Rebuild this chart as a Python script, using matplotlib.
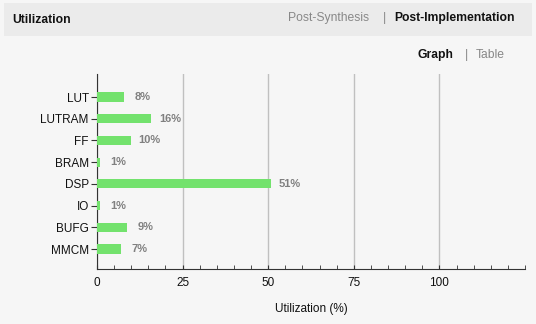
import matplotlib
matplotlib.use('Agg')
import numpy as np
from matplotlib import pyplot as plt
from matplotlib.patches import Rectangle
from matplotlib.ticker import MultipleLocator, FixedLocator

plt.rcParams['font.family'] = ['Liberation Sans', 'DejaVu Sans']

resources = ['LUT', 'LUTRAM', 'FF', 'BRAM', 'DSP', 'IO', 'BUFG', 'MMCM']
utilization = [7.9, 15.9, 9.9, 0.8, 50.9, 0.8, 8.9, 6.9]
labels = ['8%', '16%', '10%', '1%', '51%', '1%', '9%', '7%']
x_ticks = [0, 25, 50, 75, 100]

bg = '#f6f6f6'
fig = plt.figure(figsize=(5.36, 3.24), dpi=100, facecolor=bg)

# header band
fig.patches.append(Rectangle((4 / 536, 1 - 36 / 324), 528 / 536, 33 / 324,
                             transform=fig.transFigure, facecolor='#ebebeb',
                             edgecolor='none', zorder=0))
hs = 8.7
fig.text(12 / 536, 1 - 20 / 324, 'Utilization', fontsize=hs, fontweight='bold',
         va='center', ha='left', color='#111111')
fig.text(369 / 536, 1 - 18 / 324, 'Post-Synthesis', fontsize=hs, color='#888888',
         va='center', ha='right')
fig.text(384 / 536, 1 - 18 / 324, '|', fontsize=hs, color='#888888', va='center', ha='center')
fig.text(394 / 536, 1 - 18 / 324, 'Post-Implementation', fontsize=hs, fontweight='bold',
         color='#111111', va='center', ha='left')
fig.text(453 / 536, 1 - 55 / 324, 'Graph', fontsize=hs, fontweight='bold',
         color='#111111', va='center', ha='right')
fig.text(466 / 536, 1 - 55 / 324, '|', fontsize=hs, color='#888888', va='center', ha='center')
fig.text(476 / 536, 1 - 55 / 324, 'Table', fontsize=hs, color='#888888',
         va='center', ha='left')

ax = fig.add_axes([97 / 536, 1 - 269 / 324, 428 / 536, 195 / 324])
ax.set_facecolor(bg)

y = np.arange(len(resources))
ax.barh(y, utilization, height=0.42, color='#73e26d', zorder=3)
# value labels, centred a fixed distance past the bar end
for yi, v, lab in zip(y, utilization, labels):
    ax.text(v + 5.4, yi, lab, va='center', ha='center', fontsize=8,
            fontweight='bold', color='#808080')

ax.set_xlim(0, 125)
ax.set_ylim(len(resources) - 0.08, -1.06)
ax.set_yticks(y)
ax.set_yticklabels(resources, fontsize=8.5, color='#111111')
ax.xaxis.set_major_locator(FixedLocator(x_ticks))
ax.xaxis.set_minor_locator(MultipleLocator(5))
ax.tick_params(axis='x', which='both', direction='in', length=3, color='#333333',
               labelsize=8.5, labelcolor='#111111', pad=6)
ax.tick_params(axis='y', length=4, color='#333333', pad=2)
ax.grid(axis='x', which='major', color='#c0c0c0', linewidth=1, zorder=1)
for s in ['top', 'right']:
    ax.spines[s].set_visible(False)
for s in ['left', 'bottom']:
    ax.spines[s].set_color('#333333')
ax.set_xlabel('Utilization (%)', fontsize=8.5, color='#111111', labelpad=10)

fig.savefig('out.png', dpi=100, facecolor=bg)
